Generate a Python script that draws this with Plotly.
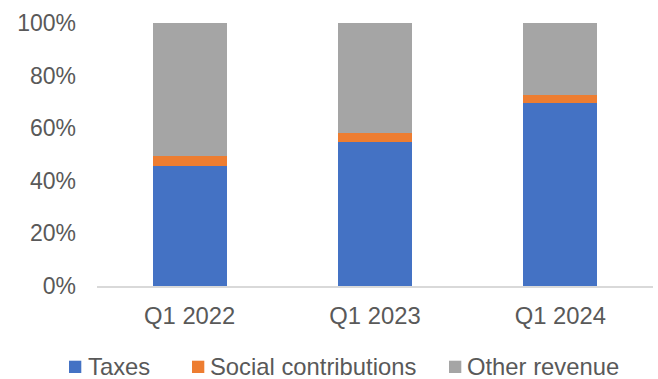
import plotly.graph_objects as go

# Revenue composition by quarter (share of total, %)
quarters = ["Q1 2022", "Q1 2023", "Q1 2024"]
taxes = [45.6, 54.6, 69.4]
social_contributions = [4.0, 3.4, 3.4]
other_revenue = [50.4, 42.0, 27.2]

series_names = ["Taxes", "Social contributions", "Other revenue"]
series_colors = ["#4472C4", "#ED7D31", "#A5A5A5"]
series_values = [taxes, social_contributions, other_revenue]

y_ticks = [0, 20, 40, 60, 80, 100]
y_tick_labels = ["0%", "20%", "40%", "60%", "80%", "100%"]

W, H = 658, 379
ML, MR, MT, MB = 97, 5, 23, 92.5
FONT = "Liberation Sans, Arial, sans-serif"
TEXT_COLOR = "#595959"

fig = go.Figure()
for name, color, vals in zip(series_names, series_colors, series_values):
    fig.add_trace(go.Bar(
        x=quarters, y=vals, name=name,
        marker=dict(color=color, line=dict(width=0)),
        showlegend=False,
    ))


def px_to_paper_x(px):
    return (px - ML) / (W - ML - MR)


def px_to_paper_y(py):
    return (H - MB - py) / (H - MT - MB)


# Legend row below the plot: colour square followed by the series name
legend_squares = [69, 192, 449]
legend_texts = [85.5, 207.5, 465]
legend_cy = 367.5
sq = 12.3
for name, color, sx, tx in zip(series_names, series_colors, legend_squares, legend_texts):
    fig.add_shape(
        type="rect", xref="paper", yref="paper",
        x0=px_to_paper_x(sx), x1=px_to_paper_x(sx + sq),
        y0=px_to_paper_y(legend_cy - sq / 2), y1=px_to_paper_y(legend_cy + sq / 2),
        fillcolor=color, line=dict(width=0),
    )
    fig.add_annotation(
        text=name, xref="paper", yref="paper",
        x=px_to_paper_x(tx), y=px_to_paper_y(legend_cy),
        xanchor="left", yanchor="middle", showarrow=False,
        font=dict(family=FONT, size=23.8, color=TEXT_COLOR),
    )

fig.update_layout(
    barmode="stack",
    bargap=0.6,
    width=W, height=H,
    margin=dict(l=ML, r=MR, t=MT, b=MB),
    paper_bgcolor="white",
    plot_bgcolor="white",
    font=dict(family=FONT, size=23.8, color=TEXT_COLOR),
    xaxis=dict(
        showline=True, linecolor="#D9D9D9", linewidth=1.5,
        showgrid=False, ticks="", ticklabelstandoff=8,
        tickfont=dict(family=FONT, size=23.8, color=TEXT_COLOR),
    ),
    yaxis=dict(
        range=[0, 100], tickvals=y_ticks, ticktext=y_tick_labels,
        showgrid=False, zeroline=False, showline=False, ticks="",
        ticklabelstandoff=20,
        tickfont=dict(family=FONT, size=23, color=TEXT_COLOR),
    ),
)

fig.write_html("out.html")
